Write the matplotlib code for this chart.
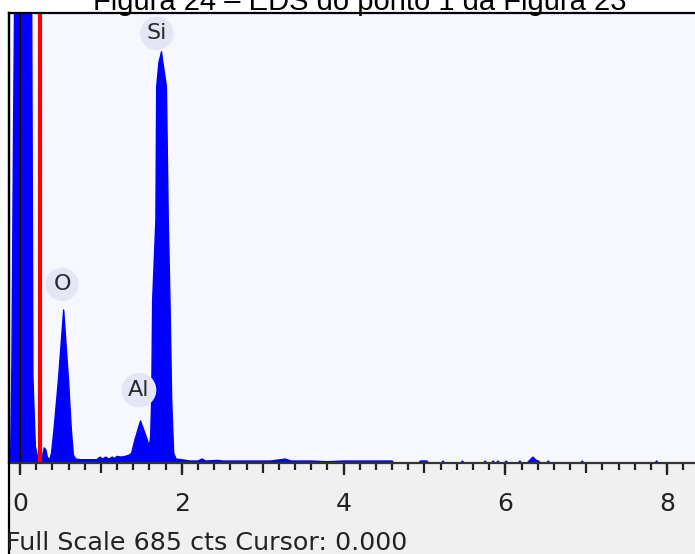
import matplotlib
matplotlib.use("Agg")
import matplotlib.pyplot as plt
from matplotlib.lines import Line2D
from matplotlib.patches import Rectangle

# ---------------- data ----------------
energy_kev = [-0.142, -0.12, -0.115, -0.10, -0.08, -0.06, -0.03, 0.03, 0.10, 0.145,
              0.16, 0.19, 0.22, 0.25, 0.28, 0.30, 0.32, 0.34, 0.37, 0.39,
              0.42, 0.475, 0.54, 0.60, 0.635, 0.66, 0.69, 0.75, 0.85, 0.95,
              0.99, 1.02, 1.06, 1.10, 1.14, 1.17, 1.20, 1.25, 1.30, 1.35,
              1.38, 1.42, 1.49, 1.56, 1.60, 1.615, 1.628, 1.64, 1.68, 1.69,
              1.718, 1.75, 1.76, 1.81, 1.833, 1.854, 1.875, 1.90, 1.93, 2.0,
              2.1, 2.2, 2.25, 2.3, 2.45, 2.5, 2.7, 2.9, 3.1, 3.28,
              3.35, 3.6, 3.8, 4.0, 4.2, 4.4, 4.6, 4.62,
              4.93, 4.95, 5.03, 5.05, 5.21, 5.23, 5.25, 5.45, 5.47, 5.49,
              5.73, 5.75, 5.77, 5.83, 5.85, 5.87, 5.89, 5.91, 5.93, 5.99,
              6.01, 6.03, 6.16, 6.18, 6.20, 6.27, 6.30, 6.34, 6.38, 6.41,
              6.43, 6.51, 6.53, 6.55, 6.93, 6.95, 6.97, 7.85, 7.87, 7.89, 8.344]
counts = [0, 0, 15, 150, 500, 800, 1500, 1500, 1000, 685,
          130, 25, 8, 6, 12, 23, 20, 8, 6, 15,
          50, 126, 233, 126, 50, 12, 6, 5, 5, 5,
          9, 6, 9, 6, 9, 7, 10, 9, 10, 12,
          15, 35, 64, 40, 25, 40, 96, 248, 370, 573,
          610, 626, 615, 573, 370, 248, 96, 15, 6, 5,
          3, 3, 6, 3, 4, 3, 3, 3, 3, 6,
          3, 3, 2, 3, 3, 3, 3, 0,
          0, 3, 3, 0, 0, 3, 0, 0, 3, 0,
          0, 3, 0, 0, 3, 0, 0, 3, 0, 0,
          3, 0, 0, 3, 0, 0, 4, 9, 4, 3,
          0, 0, 3, 0, 0, 3, 0, 0, 3, 0, 0]

full_scale = 685
cursor_kev = 0.0
marker_kev = 0.253

element_labels = ["Si", "O", "Al"]
label_energy = [1.69, 0.52, 1.47]
label_counts = [654, 272, 111]

tick_labels = ["0", "2", "4", "6", "8"]
title = "Figura 24 – EDS do ponto 1 da Figura 23"
status_text = "Full Scale 685 cts Cursor: 0.000"

# ---------------- figure ----------------
W, H = 695, 554
fig = plt.figure(figsize=(W / 100, H / 100), dpi=100)
fig.patch.set_facecolor("white")

left_px, top_px, axis_px = 8.5, 13, 463
# gray status panel
fig.add_artist(Rectangle((left_px / W, 0), 1 - left_px / W, (H - axis_px) / H,
                         transform=fig.transFigure, facecolor="#F0F0F0",
                         edgecolor="none", zorder=0))
ax = fig.add_axes([left_px / W, (H - axis_px) / H, 1 - left_px / W, (axis_px - top_px) / H])
ax.set_facecolor("#F7F8FF")

ax.fill_between(energy_kev, counts, 0, color="#0000FF", linewidth=0, zorder=1)
ax.plot(energy_kev, counts, color="#0000FF", lw=1.0, zorder=1.1)

ax.axvline(marker_kev, color="#FF0000", lw=3, zorder=2)
ax.axvline(cursor_kev, color="black", lw=1.5, zorder=2.1)

ax.set_xlim(-0.142, 8.344)
ax.set_ylim(0, full_scale)

for lab, e, c in zip(element_labels, label_energy, label_counts):
    ax.text(e, c, lab, ha="center", va="center", fontsize=16,
            family="DejaVu Sans", color="#2a2a2a", zorder=5,
            bbox=dict(boxstyle="circle,pad=0.3", facecolor="#E4E6F6",
                      edgecolor="none"))

ax.spines["right"].set_visible(False)
for s in ["left", "top", "bottom"]:
    ax.spines[s].set_color("black")
    ax.spines[s].set_linewidth(1.6)
ax.spines["bottom"].set_color("#333333")

ax.set_yticks([])
ax.set_xticks(list(range(0, 9)))
ax.set_xticklabels([])
ax.set_xticks([i * 0.2 for i in range(0, 42)], minor=True)
ax.tick_params(axis="x", which="major", direction="out", length=9.5 * 0.72, width=1.6, color="#222222")
ax.tick_params(axis="x", which="minor", direction="out", length=7 * 0.72, width=1.6, color="#222222")

sec = ax.secondary_xaxis("bottom")
sec.set_xticks([0, 2, 4, 6, 8])
sec.set_xticklabels(tick_labels)
sec.tick_params(axis="x", direction="out", length=12 * 0.72, width=1.6, color="#222222",
                pad=12, labelsize=18, labelcolor="#222222")
for t in sec.get_xticklabels():
    t.set_family("DejaVu Sans")
sec.spines["bottom"].set_visible(False)

# left border continues through the status panel
fig.add_artist(Line2D([left_px / W, left_px / W], [0, (H - top_px) / H],
                      transform=fig.transFigure, color="black", lw=1.6, zorder=10))

fig.text(360 / W, (H - 10) / H, title, ha="center", va="baseline",
         fontsize=21, family="Liberation Sans", color="black")
fig.text(6 / W, 4 / H, status_text, ha="left", va="baseline",
         fontsize=18.3, family="DejaVu Sans", color="#222222", zorder=11)

fig.savefig("out.png", dpi=100)
